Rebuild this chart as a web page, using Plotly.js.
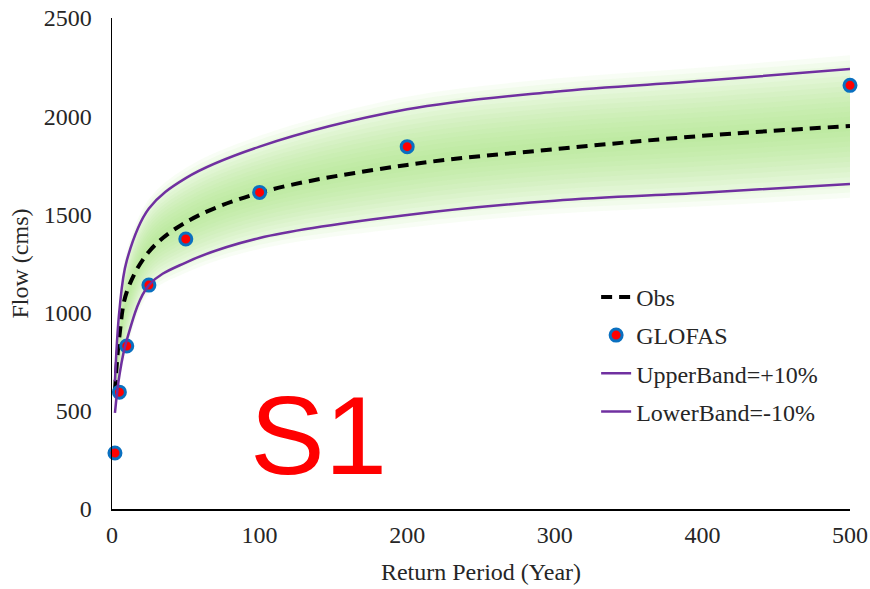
<!DOCTYPE html>
<html>
<head>
<meta charset="utf-8">
<script src="https://cdn.plot.ly/plotly-3.0.1.min.js"></script>
<style>html,body{margin:0;padding:0;background:#fff;}#chart{width:870px;height:589px;}</style>
</head>
<body>
<div id="chart"></div>
<script>
// Return periods for the fitted curves (years)
const curveT = [2, 5, 10, 25, 50, 100, 200, 300, 400, 500];
// Observed frequency curve (cms)
const obsQ = [600, 880, 1105, 1310, 1460, 1610, 1752, 1832, 1900, 1950];
// Upper band
const upperQ = [650, 1010, 1265, 1530, 1685, 1845, 2035, 2125, 2180, 2240];
// Lower band
const lowerQ = [489, 680, 860, 1140, 1255, 1380, 1497, 1570, 1610, 1655];
// GLOFAS points
const glofasT = [2, 5, 10, 25, 50, 100, 200, 500];
const glofasQ = [285, 595, 830, 1140, 1375, 1612, 1845, 2157];
// Tick labels
const xTicks = [0, 100, 200, 300, 400, 500];
const yTicks = [0, 500, 1000, 1500, 2000, 2500];

const font = 'Liberation Serif';
const txt = '#262626';
const traces = [];

// soft green glow between the bands (built from the band arrays)
const nGlow = 14;
for (let k = 0; k < nGlow; k++) {
  const f0 = -0.12 + k * (0.58 / (nGlow - 1));
  const f1 = 1 - f0;
  const lo = lowerQ.map((l, i) => l + (upperQ[i] - l) * f0);
  const hi = lowerQ.map((l, i) => l + (upperQ[i] - l) * f1);
  traces.push({x: curveT, y: lo, mode: 'lines', line: {width: 0, shape: 'spline'}, showlegend: false, hoverinfo: 'skip'});
  traces.push({x: curveT, y: hi, mode: 'lines', line: {width: 0, shape: 'spline'}, fill: 'tonexty',
    fillcolor: 'rgba(165,222,127,0.075)', showlegend: false, hoverinfo: 'skip'});
}

traces.push({x: curveT, y: obsQ, name: 'Obs', legendgroup: 'a', mode: 'lines',
  line: {color: '#000', width: 4, dash: '11px,7px', shape: 'spline'}});
traces.push({x: glofasT, y: glofasQ, name: 'GLOFAS', legendgroup: 'b', mode: 'markers', cliponaxis: false,
  marker: {color: '#ff0000', size: 12, line: {color: '#0a70c0', width: 3}}});
traces.push({x: curveT, y: upperQ, name: 'UpperBand=+10%', legendgroup: 'c', mode: 'lines',
  line: {color: '#7030a0', width: 2.5, shape: 'spline'}});
traces.push({x: curveT, y: lowerQ, name: 'LowerBand=-10%', legendgroup: 'd', mode: 'lines',
  line: {color: '#7030a0', width: 2.5, shape: 'spline'}});

const layout = {
  width: 870, height: 589,
  margin: {l: 112, r: 20, t: 18, b: 80},
  paper_bgcolor: '#fff', plot_bgcolor: '#fff',
  font: {family: font, size: 24, color: txt},
  xaxis: {range: [0, 500], tickvals: xTicks, ticktext: xTicks.map(String), showgrid: false, zeroline: false,
    showline: true, linecolor: '#000', linewidth: 1.5, ticks: 'outside', ticklen: 4, tickcolor: 'rgba(0,0,0,0)',
    tickfont: {family: font, size: 24, color: txt},
    title: {text: 'Return Period (Year)', font: {family: font, size: 24, color: txt}, standoff: 16}},
  yaxis: {range: [0, 2500], tickvals: yTicks, ticktext: yTicks.map(String), showgrid: false, zeroline: false,
    showline: true, linecolor: '#000', linewidth: 1.5, ticks: 'outside', ticklen: 14, tickcolor: 'rgba(0,0,0,0)',
    tickfont: {family: font, size: 24, color: txt},
    title: {text: 'Flow (cms)', font: {family: font, size: 24, color: txt}, standoff: 8}},
  legend: {x: 0.656, y: 0.477, xanchor: 'left', yanchor: 'top', bgcolor: 'rgba(0,0,0,0)',
    font: {family: font, size: 24, color: txt}, tracegroupgap: 4, traceorder: 'grouped'},
  annotations: [{text: 'S1', x: 140, y: 372, xref: 'x', yref: 'y', showarrow: false,
    xanchor: 'center', yanchor: 'middle',
    font: {family: 'Liberation Sans, Arial, sans-serif', size: 112, color: '#ff0000'}}]
};

Plotly.newPlot('chart', traces, layout, {displayModeBar: false, staticPlot: true});
</script>
</body>
</html>
